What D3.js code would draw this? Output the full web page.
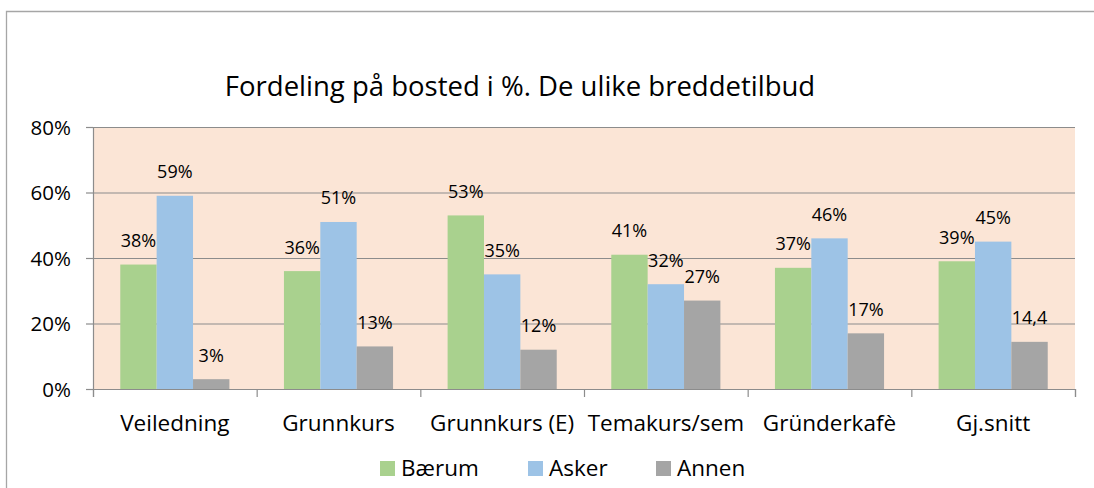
<!DOCTYPE html>
<html>
<head>
<meta charset="utf-8">
<script src="https://cdn.jsdelivr.net/npm/d3@7"></script>
<style>
  html, body { margin: 0; padding: 0; background: #fff; overflow: hidden; }
  svg { display: block; font-family: "Open Sans", sans-serif; }
</style>
</head>
<body>
<svg id="chart" width="1094" height="488"></svg>
<script>
// Chart data
const title = "Fordeling på bosted i %. De ulike breddetilbud";
const categories = ["Veiledning", "Grunnkurs", "Grunnkurs (E)", "Temakurs/sem", "Gründerkafè", "Gj.snitt"];
const seriesNames = ["Bærum", "Asker", "Annen"];
const baerum = [38, 36, 53, 41, 37, 39];
const asker  = [59, 51, 35, 32, 46, 45];
const annen  = [3, 13, 12, 27, 17, 14.4];
const valueLabels = [
  ["38%", "36%", "53%", "41%", "37%", "39%"],
  ["59%", "51%", "35%", "32%", "46%", "45%"],
  ["3%", "13%", "12%", "27%", "17%", "14,4"]
];
const yTicks = [0, 20, 40, 60, 80];

const seriesValues = [baerum, asker, annen];
const colors = ["#A9D18E", "#9DC3E6", "#A5A5A5"];

const svg = d3.select("#chart");

// Outer chart frame (left and top edges fall inside the view)
svg.append("path")
  .attr("d", "M6.5,488 V11.5 H1094")
  .attr("fill", "none").attr("stroke", "#A6A6A6").attr("stroke-width", 1.3);

const plot = { left: 93, right: 1075, top: 127, bottom: 389 };

const x0 = d3.scaleBand()
  .domain(categories)
  .range([plot.left, plot.right])
  .paddingInner(0).paddingOuter(0);

// Excel-style gap width of 150% between groups
const catW = x0.bandwidth();
const barW = catW / (seriesNames.length + 1.5);
const x1 = d3.scaleBand()
  .domain(seriesNames)
  .range([barW * 0.75, catW - barW * 0.75])
  .padding(0);

const y = d3.scaleLinear().domain([0, 80]).range([plot.bottom, plot.top]);

// Plot background
svg.append("rect")
  .attr("x", plot.left).attr("y", plot.top)
  .attr("width", plot.right - plot.left).attr("height", plot.bottom - plot.top)
  .attr("fill", "#FBE5D6");

// Horizontal gridlines
svg.append("g")
  .selectAll("line")
  .data(yTicks)
  .join("line")
  .attr("x1", plot.left).attr("x2", plot.right)
  .attr("y1", d => y(d) + 0.5).attr("y2", d => y(d) + 0.5)
  .attr("stroke", "#8C8C8C").attr("stroke-width", 1.2);

// Bars
const groups = svg.append("g")
  .selectAll("g")
  .data(seriesNames)
  .join("g")
  .attr("fill", (d, i) => colors[i]);

groups.each(function (name, si) {
  d3.select(this).selectAll("rect")
    .data(categories)
    .join("rect")
    .attr("x", c => x0(c) + x1(name))
    .attr("y", (c, ci) => y(seriesValues[si][ci]))
    .attr("width", x1.bandwidth())
    .attr("height", (c, ci) => y(0) - y(seriesValues[si][ci]));
});

// Value labels
groups.each(function (name, si) {
  d3.select(this).selectAll("text")
    .data(categories)
    .join("text")
    .attr("x", c => x0(c) + x1(name) + x1.bandwidth() / 2)
    .attr("y", (c, ci) => y(seriesValues[si][ci]) - 17.5)
    .attr("text-anchor", "middle")
    .attr("fill", "#000")
    .attr("font-size", 18)
    .text((c, ci) => valueLabels[si][ci]);
});

// Y axis
const yAxis = svg.append("g")
  .attr("transform", `translate(${plot.left},0)`)
  .call(d3.axisLeft(y).tickValues(yTicks).tickSize(7).tickPadding(15).tickFormat(d => d + "%"));
yAxis.select(".domain").attr("stroke", "#8C8C8C").attr("stroke-width", 1.2);
yAxis.selectAll(".tick line").attr("stroke", "#8C8C8C").attr("stroke-width", 1.2);
yAxis.selectAll(".tick text")
  .attr("font-size", 20.5).attr("fill", "#000")
  .attr("font-family", "Open Sans, sans-serif")
  .attr("dy", "0.36em");

// X axis: tick marks on the category boundaries
const xb = d3.scaleLinear().domain([0, categories.length]).range([plot.left, plot.right]);
const xAxis = svg.append("g")
  .attr("transform", `translate(0,${plot.bottom})`)
  .call(d3.axisBottom(xb).ticks(categories.length).tickSize(8).tickFormat(""));
xAxis.select(".domain").attr("stroke", "#8C8C8C").attr("stroke-width", 1.2);
xAxis.selectAll(".tick line").attr("stroke", "#8C8C8C").attr("stroke-width", 1.2);

// Category labels
const xLabels = svg.append("g")
  .attr("transform", `translate(0,${plot.bottom})`)
  .call(d3.axisBottom(x0).tickSize(0).tickPadding(0));
xLabels.select(".domain").remove();
xLabels.selectAll(".tick text")
  .attr("font-size", 22.5).attr("fill", "#000")
  .attr("font-family", "Open Sans, sans-serif")
  .attr("y", 42).attr("dy", 0);

// Title
svg.append("text")
  .attr("x", 520).attr("y", 96)
  .attr("text-anchor", "middle")
  .attr("font-size", 27.5)
  .attr("fill", "#000")
  .text(title);

// Legend
const legendX = [380, 528, 656];
const legend = svg.append("g")
  .selectAll("g")
  .data(seriesNames)
  .join("g")
  .attr("transform", (d, i) => `translate(${legendX[i]},461)`);
legend.append("rect")
  .attr("width", 15).attr("height", 15)
  .attr("fill", (d, i) => colors[i]);
legend.append("text")
  .attr("x", 21).attr("y", 15)
  .attr("font-size", 22.5)
  .attr("fill", "#000")
  .text(d => d);
</script>
</body>
</html>
